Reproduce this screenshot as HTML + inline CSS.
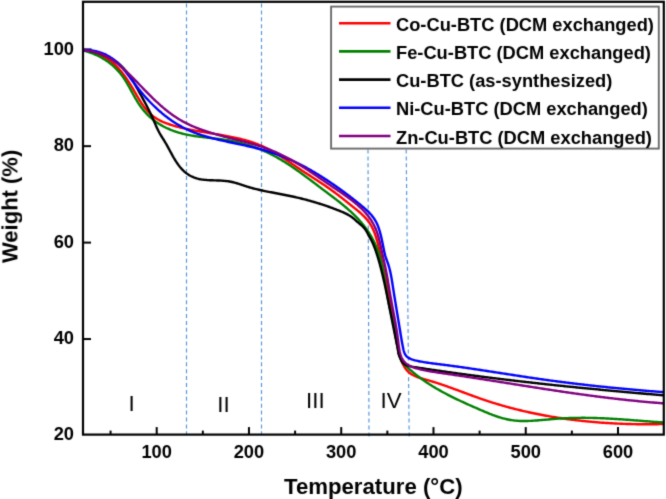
<!DOCTYPE html>
<html><head><meta charset="utf-8"><style>
html,body{margin:0;padding:0;background:#fff;}
svg{display:block;}
text{font-family:"Liberation Sans",sans-serif;}
</style></head><body>
<svg width="666" height="499" viewBox="0 0 666 499">
<defs><filter id="b" x="0" y="0" width="666" height="499" filterUnits="userSpaceOnUse" color-interpolation-filters="sRGB"><feConvolveMatrix order="3" kernelMatrix="0.0192 0.1001 0.0192 0.1001 0.5228 0.1001 0.0192 0.1001 0.0192" edgeMode="duplicate" preserveAlpha="true"/></filter></defs>
<rect width="666" height="499" fill="#fff"/>
<g filter="url(#b)">
<rect width="666" height="499" fill="#fff"/>
<g stroke="#5294dc" stroke-width="1.15" stroke-dasharray="4,2.9" fill="none">
<line x1="186.5" y1="3.5" x2="186.5" y2="437.5"/>
<line x1="261.5" y1="3.5" x2="261.5" y2="437.5"/>
<line x1="368" y1="149.5" x2="369" y2="437.5"/>
<line x1="406.2" y1="149.5" x2="409.2" y2="437.5"/>
</g>
<line x1="83" y1="49.40" x2="91.5" y2="49.40" stroke="#000" stroke-width="2"/>
<g fill="none" stroke-width="2.4" stroke-linejoin="round" stroke-linecap="round">
<path d="M83.50,50.30 L84.81,50.49 L86.10,50.70 L87.37,50.93 L88.61,51.19 L89.84,51.46 L91.04,51.76 L92.22,52.08 L93.38,52.42 L94.52,52.78 L95.65,53.15 L96.75,53.55 L97.83,53.97 L98.89,54.41 L99.94,54.86 L100.96,55.34 L101.97,55.83 L102.96,56.34 L103.94,56.86 L104.90,57.40 L105.84,57.96 L106.76,58.54 L107.67,59.13 L108.56,59.74 L109.44,60.36 L110.30,61.00 L111.15,61.65 L111.98,62.32 L112.80,63.00 L113.61,63.69 L114.40,64.40 L115.18,65.12 L115.95,65.85 L116.70,66.60 L117.45,67.35 L118.18,68.12 L118.90,68.90 L119.61,69.69 L120.31,70.49 L121.00,71.30 L121.68,72.12 L122.34,72.96 L123.00,73.80 L123.66,74.64 L124.30,75.50 L124.93,76.37 L125.56,77.24 L126.18,78.12 L126.79,79.01 L127.40,79.90 L127.99,80.81 L128.59,81.71 L129.17,82.63 L129.75,83.55 L130.33,84.47 L130.90,85.40 L131.46,86.34 L132.03,87.27 L132.58,88.22 L133.14,89.16 L133.69,90.11 L134.24,91.06 L134.79,92.01 L135.34,92.96 L135.89,93.91 L136.44,94.86 L136.99,95.81 L137.54,96.76 L138.10,97.70 L138.66,98.64 L139.23,99.57 L139.80,100.50 L140.38,101.42 L140.97,102.33 L141.56,103.24 L142.17,104.13 L142.78,105.02 L143.40,105.90 L144.04,106.76 L144.69,107.61 L145.35,108.45 L146.02,109.28 L146.71,110.09 L147.41,110.89 L148.13,111.67 L148.87,112.43 L149.62,113.18 L150.39,113.91 L151.18,114.62 L152.00,115.30 L152.83,115.97 L153.68,116.62 L154.55,117.25 L155.45,117.85 L156.36,118.44 L157.30,119.00 L158.25,119.55 L159.22,120.08 L160.21,120.59 L161.22,121.08 L162.24,121.56 L163.28,122.02 L164.34,122.46 L165.40,122.90 L166.49,123.31 L167.58,123.72 L168.69,124.11 L169.81,124.49 L170.94,124.86 L172.08,125.22 L173.24,125.56 L174.40,125.90 L175.57,126.23 L176.75,126.55 L177.94,126.86 L179.13,127.17 L180.33,127.47 L181.54,127.76 L182.76,128.04 L183.98,128.32 L185.20,128.60 L186.44,128.86 L187.68,129.12 L188.92,129.38 L190.17,129.63 L191.42,129.88 L192.68,130.12 L193.94,130.36 L195.21,130.59 L196.48,130.82 L197.75,131.05 L199.02,131.28 L200.30,131.50 L201.58,131.72 L202.86,131.94 L204.14,132.16 L205.43,132.37 L206.72,132.58 L208.00,132.80 L209.29,133.01 L210.58,133.22 L211.86,133.44 L213.15,133.65 L214.44,133.86 L215.72,134.08 L217.01,134.29 L218.29,134.51 L219.57,134.73 L220.85,134.95 L222.13,135.17 L223.40,135.40 L224.68,135.62 L225.94,135.86 L227.21,136.09 L228.47,136.33 L229.73,136.57 L230.98,136.82 L232.23,137.07 L233.47,137.33 L234.71,137.59 L235.94,137.86 L237.17,138.13 L238.39,138.41 L239.60,138.70 L240.81,138.99 L242.01,139.29 L243.20,139.60 L244.39,139.91 L245.56,140.24 L246.73,140.57 L247.89,140.91 L249.05,141.25 L250.19,141.61 L251.32,141.98 L252.45,142.35 L253.56,142.74 L254.67,143.13 L255.76,143.54 L256.85,143.95 L257.92,144.38 L258.99,144.81 L260.04,145.26 L261.09,145.71 L262.13,146.17 L263.16,146.64 L264.18,147.12 L265.20,147.60 L266.20,148.10 L267.20,148.60 L268.19,149.11 L269.18,149.62 L270.16,150.14 L271.13,150.67 L272.09,151.21 L273.05,151.75 L274.01,152.29 L274.96,152.84 L275.90,153.40 L276.84,153.96 L277.77,154.53 L278.70,155.10 L279.63,155.67 L280.55,156.25 L281.47,156.83 L282.38,157.42 L283.29,158.01 L284.20,158.60 L285.11,159.19 L286.01,159.79 L286.91,160.39 L287.81,160.99 L288.71,161.59 L289.60,162.20 L290.50,162.80 L291.39,163.41 L292.29,164.01 L293.18,164.62 L294.08,165.22 L294.97,165.83 L295.86,166.44 L296.76,167.04 L297.65,167.65 L298.55,168.25 L299.45,168.85 L300.35,169.45 L301.25,170.05 L302.15,170.65 L303.06,171.24 L303.96,171.84 L304.87,172.43 L305.78,173.02 L306.69,173.61 L307.60,174.20 L308.51,174.79 L309.42,175.38 L310.33,175.97 L311.24,176.56 L312.15,177.15 L313.06,177.74 L313.98,178.32 L314.89,178.91 L315.79,179.51 L316.70,180.10 L317.61,180.69 L318.52,181.28 L319.42,181.88 L320.33,182.47 L321.23,183.07 L322.13,183.67 L323.03,184.27 L323.93,184.87 L324.82,185.48 L325.71,186.09 L326.60,186.70 L327.49,187.31 L328.38,187.92 L329.26,188.54 L330.14,189.16 L331.01,189.79 L331.88,190.42 L332.75,191.05 L333.62,191.68 L334.48,192.32 L335.34,192.96 L336.20,193.60 L337.05,194.25 L337.90,194.90 L338.75,195.55 L339.60,196.20 L340.44,196.86 L341.29,197.51 L342.13,198.17 L342.97,198.83 L343.80,199.50 L344.64,200.16 L345.48,200.82 L346.31,201.49 L347.14,202.16 L347.98,202.82 L348.81,203.49 L349.64,204.16 L350.47,204.83 L351.30,205.50 L352.13,206.17 L352.97,206.83 L353.80,207.50 L354.63,208.17 L355.46,208.84 L356.29,209.51 L357.12,210.18 L357.94,210.86 L358.76,211.54 L359.57,212.23 L360.37,212.93 L361.17,213.63 L361.95,214.35 L362.73,215.07 L363.49,215.81 L364.24,216.56 L364.97,217.33 L365.69,218.11 L366.39,218.91 L367.07,219.73 L367.74,220.56 L368.39,221.41 L369.01,222.29 L369.62,223.18 L370.21,224.09 L370.78,225.02 L371.33,225.97 L371.86,226.94 L372.37,227.93 L372.86,228.94 L373.33,229.97 L373.78,231.02 L374.21,232.09 L374.63,233.17 L375.03,234.27 L375.42,235.38 L375.79,236.51 L376.15,237.65 L376.50,238.80 L376.84,239.96 L377.18,241.12 L377.50,242.30 L377.81,243.49 L378.12,244.68 L378.42,245.88 L378.72,247.08 L379.01,248.29 L379.29,249.51 L379.57,250.73 L379.85,251.95 L380.13,253.17 L380.40,254.40 L380.67,255.63 L380.94,256.86 L381.20,258.10 L381.47,259.33 L381.74,260.56 L382.01,261.79 L382.28,263.02 L382.55,264.25 L382.82,265.48 L383.09,266.71 L383.36,267.94 L383.64,269.16 L383.91,270.39 L384.18,271.62 L384.45,272.85 L384.72,274.08 L384.99,275.31 L385.26,276.54 L385.53,277.77 L385.80,279.00 L386.07,280.23 L386.34,281.46 L386.60,282.70 L386.86,283.94 L387.13,285.17 L387.39,286.41 L387.65,287.65 L387.90,288.90 L388.16,290.14 L388.41,291.39 L388.66,292.64 L388.91,293.89 L389.16,295.14 L389.40,296.40 L389.64,297.66 L389.88,298.92 L390.12,300.18 L390.35,301.45 L390.58,302.72 L390.80,304.00 L391.03,305.27 L391.25,306.55 L391.46,307.84 L391.67,309.13 L391.88,310.42 L392.09,311.71 L392.29,313.01 L392.48,314.32 L392.67,315.63 L392.86,316.94 L393.05,318.25 L393.24,319.56 L393.42,320.88 L393.61,322.19 L393.79,323.51 L393.97,324.83 L394.16,326.14 L394.34,327.46 L394.53,328.77 L394.72,330.08 L394.91,331.39 L395.10,332.70 L395.30,334.00 L395.50,335.30 L395.71,336.59 L395.92,337.88 L396.14,339.16 L396.36,340.44 L396.58,341.72 L396.82,342.98 L397.06,344.24 L397.31,345.49 L397.57,346.73 L397.83,347.97 L398.11,349.19 L398.39,350.41 L398.69,351.61 L398.99,352.81 L399.31,353.99 L399.63,355.17 L399.97,356.33 L400.33,357.47 L400.70,358.60 L401.08,359.72 L401.49,360.81 L401.91,361.89 L402.36,362.94 L402.83,363.97 L403.32,364.98 L403.85,365.95 L404.40,366.90 L404.98,367.82 L405.59,368.71 L406.24,369.56 L406.92,370.38 L407.64,371.16 L408.40,371.90 L409.20,372.60 L410.04,373.26 L410.92,373.88 L411.84,374.46 L412.80,375.00 L413.79,375.51 L414.81,375.99 L415.85,376.45 L416.93,376.87 L418.02,377.28 L419.14,377.66 L420.27,378.03 L421.41,378.39 L422.57,378.73 L423.73,379.07 L424.90,379.40 L426.07,379.73 L427.25,380.05 L428.42,380.38 L429.58,380.72 L430.74,381.06 L431.89,381.41 L433.05,381.75 L434.19,382.11 L435.33,382.47 L436.47,382.83 L437.61,383.19 L438.74,383.56 L439.87,383.93 L440.99,384.31 L442.11,384.69 L443.23,385.07 L444.35,385.45 L445.46,385.84 L446.57,386.23 L447.68,386.62 L448.79,387.01 L449.89,387.41 L451.00,387.80 L452.10,388.20 L453.20,388.60 L454.29,389.01 L455.39,389.41 L456.49,389.81 L457.58,390.22 L458.68,390.62 L459.77,391.03 L460.86,391.44 L461.95,391.85 L463.05,392.25 L464.14,392.66 L465.23,393.07 L466.32,393.48 L467.42,393.88 L468.51,394.29 L469.61,394.69 L470.70,395.10 L471.80,395.50 L472.90,395.90 L474.00,396.30 L475.10,396.70 L476.20,397.10 L477.31,397.49 L478.41,397.89 L479.52,398.28 L480.63,398.67 L481.75,399.05 L482.86,399.44 L483.98,399.82 L485.10,400.20 L486.23,400.57 L487.36,400.94 L488.49,401.31 L489.62,401.68 L490.75,402.05 L491.89,402.41 L493.03,402.77 L494.18,403.12 L495.32,403.48 L496.47,403.83 L497.63,404.17 L498.78,404.52 L499.94,404.86 L501.10,405.20 L502.27,405.53 L503.43,405.87 L504.60,406.20 L505.77,406.53 L506.95,406.85 L508.13,407.17 L509.31,407.49 L510.49,407.81 L511.68,408.12 L512.87,408.43 L514.06,408.74 L515.26,409.04 L516.45,409.35 L517.66,409.64 L518.86,409.94 L520.07,410.23 L521.28,410.52 L522.49,410.81 L523.70,411.10 L524.92,411.38 L526.14,411.66 L527.37,411.93 L528.59,412.21 L529.82,412.48 L531.06,412.74 L532.29,413.01 L533.53,413.27 L534.77,413.53 L536.02,413.78 L537.27,414.03 L538.52,414.28 L539.77,414.53 L541.03,414.77 L542.29,415.01 L543.55,415.25 L544.82,415.48 L546.08,415.72 L547.36,415.94 L548.63,416.17 L549.91,416.39 L551.19,416.61 L552.47,416.83 L553.76,417.04 L555.05,417.25 L556.34,417.46 L557.64,417.66 L558.93,417.87 L560.24,418.06 L561.54,418.26 L562.85,418.45 L564.16,418.64 L565.47,418.83 L566.79,419.01 L568.11,419.19 L569.43,419.37 L570.76,419.54 L572.09,419.71 L573.42,419.88 L574.76,420.04 L576.09,420.21 L577.43,420.37 L578.78,420.52 L580.13,420.67 L581.48,420.82 L582.83,420.97 L584.19,421.11 L585.55,421.25 L586.91,421.39 L588.28,421.52 L589.65,421.65 L591.02,421.78 L592.39,421.91 L593.77,422.03 L595.15,422.15 L596.54,422.26 L597.93,422.37 L599.32,422.48 L600.71,422.59 L602.11,422.69 L603.51,422.79 L604.92,422.88 L606.32,422.98 L607.73,423.07 L609.15,423.15 L610.56,423.24 L611.98,423.32 L613.41,423.39 L614.83,423.47 L616.26,423.54 L617.69,423.61 L619.13,423.67 L620.57,423.73 L622.01,423.79 L623.46,423.84 L624.91,423.89 L626.36,423.94 L627.81,423.99 L629.27,424.03 L630.73,424.07 L632.20,424.10 L633.67,424.13 L635.14,424.16 L636.61,424.19 L638.09,424.21 L639.57,424.23 L641.06,424.24 L642.54,424.26 L644.03,424.27 L645.53,424.27 L647.03,424.27 L648.53,424.27 L650.03,424.27 L651.54,424.26 L653.05,424.25 L654.56,424.24 L656.08,424.22 L657.60,424.20 L659.13,424.17 L660.65,424.15 L662.19,424.11 L663.00,424.10" stroke="#ff0000"/>
<path d="M83.50,50.50 L84.67,50.83 L85.84,51.16 L86.99,51.51 L88.12,51.88 L89.25,52.25 L90.36,52.64 L91.45,53.05 L92.54,53.46 L93.61,53.89 L94.66,54.34 L95.71,54.79 L96.74,55.26 L97.76,55.74 L98.76,56.24 L99.75,56.75 L100.73,57.27 L101.70,57.80 L102.65,58.35 L103.59,58.91 L104.52,59.48 L105.44,60.06 L106.34,60.66 L107.23,61.27 L108.10,61.90 L108.97,62.53 L109.82,63.18 L110.66,63.84 L111.48,64.52 L112.30,65.20 L113.10,65.90 L113.89,66.61 L114.66,67.34 L115.42,68.08 L116.17,68.83 L116.91,69.59 L117.64,70.36 L118.35,71.15 L119.05,71.95 L119.74,72.76 L120.42,73.58 L121.08,74.42 L121.73,75.27 L122.37,76.13 L123.00,77.00 L123.62,77.88 L124.22,78.78 L124.81,79.69 L125.40,80.60 L125.97,81.53 L126.54,82.46 L127.10,83.40 L127.65,84.35 L128.20,85.30 L128.74,86.26 L129.28,87.22 L129.81,88.19 L130.34,89.16 L130.87,90.13 L131.40,91.10 L131.93,92.07 L132.46,93.04 L132.99,94.01 L133.52,94.98 L134.05,95.95 L134.59,96.91 L135.13,97.87 L135.68,98.82 L136.24,99.76 L136.80,100.70 L137.37,101.63 L137.94,102.56 L138.53,103.47 L139.12,104.38 L139.73,105.27 L140.35,106.15 L140.98,107.02 L141.62,107.88 L142.27,108.73 L142.94,109.56 L143.62,110.38 L144.31,111.19 L145.01,111.99 L145.72,112.78 L146.45,113.55 L147.18,114.32 L147.93,115.07 L148.70,115.80 L149.47,116.53 L150.26,117.24 L151.05,117.95 L151.87,118.63 L152.69,119.31 L153.52,119.98 L154.37,120.63 L155.23,121.27 L156.10,121.90 L156.99,122.51 L157.88,123.12 L158.79,123.71 L159.71,124.29 L160.65,124.85 L161.59,125.41 L162.55,125.95 L163.52,126.48 L164.51,126.99 L165.50,127.50 L166.51,127.99 L167.53,128.47 L168.57,128.93 L169.62,129.38 L170.68,129.82 L171.75,130.25 L172.83,130.67 L173.93,131.07 L175.04,131.46 L176.16,131.84 L177.30,132.20 L178.45,132.55 L179.61,132.89 L180.79,133.21 L181.97,133.53 L183.18,133.82 L184.39,134.11 L185.62,134.38 L186.85,134.65 L188.10,134.90 L189.37,135.13 L190.64,135.36 L191.92,135.58 L193.21,135.79 L194.51,135.99 L195.81,136.19 L197.12,136.38 L198.44,136.56 L199.77,136.73 L201.10,136.90 L202.43,137.07 L203.77,137.23 L205.11,137.39 L206.45,137.55 L207.80,137.70 L209.14,137.86 L210.49,138.01 L211.83,138.17 L213.18,138.32 L214.52,138.48 L215.86,138.64 L217.20,138.80 L218.53,138.97 L219.86,139.14 L221.19,139.31 L222.50,139.50 L223.82,139.68 L225.12,139.88 L226.42,140.08 L227.71,140.29 L228.99,140.51 L230.26,140.74 L231.53,140.97 L232.78,141.22 L234.03,141.47 L235.27,141.73 L236.50,142.00 L237.72,142.28 L238.93,142.57 L240.14,142.86 L241.34,143.16 L242.53,143.47 L243.71,143.79 L244.88,144.12 L246.05,144.45 L247.20,144.80 L248.35,145.15 L249.50,145.50 L250.63,145.87 L251.76,146.24 L252.88,146.62 L253.99,147.01 L255.10,147.40 L256.19,147.81 L257.28,148.22 L258.37,148.63 L259.44,149.06 L260.51,149.49 L261.57,149.93 L262.63,150.37 L263.67,150.83 L264.71,151.29 L265.75,151.75 L266.77,152.23 L267.79,152.71 L268.81,153.19 L269.82,153.68 L270.82,154.18 L271.81,154.69 L272.80,155.20 L273.78,155.72 L274.76,156.24 L275.73,156.77 L276.70,157.30 L277.66,157.84 L278.61,158.39 L279.56,158.94 L280.51,159.49 L281.45,160.05 L282.39,160.61 L283.32,161.18 L284.25,161.75 L285.17,162.33 L286.09,162.91 L287.00,163.50 L287.92,164.08 L288.82,164.68 L289.73,165.27 L290.63,165.87 L291.53,166.47 L292.42,167.08 L293.31,167.69 L294.20,168.30 L295.08,168.92 L295.97,169.53 L296.85,170.15 L297.73,170.77 L298.60,171.40 L299.48,172.02 L300.35,172.65 L301.22,173.28 L302.09,173.91 L302.95,174.55 L303.82,175.18 L304.68,175.82 L305.55,176.45 L306.41,177.09 L307.27,177.73 L308.13,178.37 L308.99,179.01 L309.85,179.65 L310.71,180.29 L311.56,180.94 L312.42,181.58 L313.28,182.22 L314.13,182.87 L314.99,183.51 L315.84,184.16 L316.70,184.80 L317.55,185.45 L318.40,186.10 L319.26,186.74 L320.11,187.39 L320.96,188.04 L321.82,188.68 L322.67,189.33 L323.53,189.97 L324.38,190.62 L325.24,191.26 L326.09,191.91 L326.95,192.55 L327.80,193.20 L328.66,193.84 L329.51,194.49 L330.37,195.13 L331.22,195.78 L332.08,196.42 L332.93,197.07 L333.78,197.72 L334.63,198.37 L335.48,199.02 L336.33,199.67 L337.17,200.33 L338.01,200.99 L338.85,201.65 L339.69,202.31 L340.53,202.97 L341.36,203.64 L342.19,204.31 L343.02,204.98 L343.84,205.66 L344.66,206.34 L345.47,207.03 L346.28,207.72 L347.09,208.41 L347.89,209.11 L348.69,209.81 L349.48,210.52 L350.27,211.23 L351.06,211.94 L351.84,212.66 L352.61,213.39 L353.37,214.13 L354.14,214.86 L354.89,215.61 L355.64,216.36 L356.38,217.12 L357.12,217.88 L357.85,218.65 L358.57,219.43 L359.28,220.22 L359.99,221.01 L360.69,221.81 L361.39,222.61 L362.07,223.43 L362.75,224.25 L363.42,225.08 L364.08,225.92 L364.73,226.77 L365.37,227.63 L366.01,228.49 L366.64,229.36 L367.25,230.25 L367.86,231.14 L368.46,232.04 L369.05,232.95 L369.64,233.86 L370.21,234.79 L370.77,235.73 L371.32,236.68 L371.87,237.63 L372.40,238.60 L372.92,239.58 L373.43,240.57 L373.93,241.57 L374.42,242.58 L374.90,243.60 L375.37,244.63 L375.83,245.67 L376.28,246.72 L376.71,247.79 L377.14,248.86 L377.55,249.95 L377.95,251.05 L378.34,252.16 L378.71,253.29 L379.08,254.42 L379.43,255.57 L379.77,256.73 L380.11,257.89 L380.43,259.07 L380.74,260.26 L381.04,261.46 L381.34,262.66 L381.62,263.88 L381.90,265.10 L382.17,266.33 L382.43,267.57 L382.69,268.81 L382.94,270.06 L383.18,271.32 L383.42,272.58 L383.66,273.84 L383.89,275.11 L384.12,276.38 L384.34,277.66 L384.56,278.94 L384.78,280.22 L384.99,281.51 L385.21,282.79 L385.42,284.08 L385.63,285.37 L385.84,286.66 L386.05,287.95 L386.27,289.23 L386.48,290.52 L386.70,291.80 L386.91,293.09 L387.13,294.37 L387.35,295.65 L387.58,296.92 L387.81,298.19 L388.04,299.46 L388.28,300.72 L388.52,301.98 L388.77,303.23 L389.02,304.48 L389.28,305.72 L389.55,306.95 L389.82,308.18 L390.09,309.41 L390.37,310.63 L390.65,311.85 L390.93,313.07 L391.21,314.29 L391.50,315.50 L391.78,316.72 L392.06,317.94 L392.34,319.16 L392.62,320.38 L392.89,321.61 L393.16,322.84 L393.42,324.08 L393.68,325.32 L393.93,326.57 L394.17,327.83 L394.41,329.09 L394.64,330.36 L394.87,331.63 L395.09,332.91 L395.31,334.19 L395.52,335.48 L395.73,336.77 L395.95,338.05 L396.15,339.35 L396.36,340.64 L396.57,341.93 L396.78,343.22 L397.00,344.50 L397.21,345.79 L397.43,347.07 L397.65,348.35 L397.88,349.62 L398.13,350.87 L398.39,352.11 L398.67,353.33 L398.98,354.52 L399.31,355.69 L399.68,356.82 L400.09,357.91 L400.54,358.96 L401.04,359.96 L401.59,360.91 L402.19,361.81 L402.82,362.68 L403.50,363.50 L404.20,364.30 L404.94,365.06 L405.69,365.81 L406.46,366.54 L407.25,367.25 L408.04,367.96 L408.83,368.67 L409.63,369.37 L410.43,370.07 L411.24,370.76 L412.05,371.45 L412.87,372.13 L413.69,372.81 L414.52,373.48 L415.35,374.15 L416.18,374.82 L417.02,375.48 L417.87,376.13 L418.72,376.78 L419.57,377.43 L420.43,378.07 L421.30,378.70 L422.17,379.33 L423.05,379.95 L423.93,380.57 L424.82,381.18 L425.71,381.79 L426.61,382.39 L427.51,382.99 L428.42,383.58 L429.33,384.17 L430.25,384.75 L431.17,385.33 L432.09,385.91 L433.02,386.48 L433.95,387.05 L434.89,387.61 L435.83,388.17 L436.78,388.72 L437.73,389.27 L438.68,389.82 L439.64,390.36 L440.60,390.90 L441.57,391.43 L442.54,391.96 L443.51,392.49 L444.48,393.02 L445.46,393.54 L446.44,394.06 L447.43,394.57 L448.42,395.08 L449.41,395.59 L450.41,396.09 L451.40,396.60 L452.40,397.10 L453.41,397.59 L454.41,398.09 L455.42,398.58 L456.43,399.07 L457.45,399.55 L458.46,400.04 L459.48,400.52 L460.50,401.00 L461.52,401.48 L462.55,401.95 L463.58,402.42 L464.60,402.90 L465.63,403.37 L466.67,403.83 L467.70,404.30 L468.74,404.76 L469.77,405.23 L470.81,405.69 L471.85,406.15 L472.89,406.61 L473.94,407.06 L474.98,407.52 L476.03,407.97 L477.07,408.43 L478.12,408.88 L479.17,409.33 L480.22,409.78 L481.27,410.23 L482.32,410.68 L483.37,411.13 L484.42,411.58 L485.47,412.03 L486.53,412.47 L487.59,412.91 L488.65,413.35 L489.71,413.79 L490.79,414.21 L491.86,414.64 L492.95,415.05 L494.04,415.46 L495.14,415.86 L496.25,416.25 L497.37,416.63 L498.50,417.00 L499.64,417.36 L500.80,417.70 L501.96,418.04 L503.14,418.36 L504.34,418.66 L505.55,418.95 L506.77,419.23 L508.01,419.49 L509.27,419.73 L510.55,419.95 L511.85,420.15 L513.17,420.33 L514.50,420.50 L515.86,420.64 L517.24,420.76 L518.64,420.86 L520.07,420.93 L521.52,420.98 L523.00,421.00 L524.49,421.01 L526.01,420.99 L527.54,420.96 L529.10,420.90 L530.67,420.83 L532.25,420.75 L533.85,420.65 L535.45,420.55 L537.07,420.43 L538.70,420.30 L540.33,420.17 L541.97,420.03 L543.62,419.88 L545.26,419.74 L546.91,419.59 L548.56,419.44 L550.20,419.30 L551.84,419.16 L553.48,419.02 L555.11,418.89 L556.73,418.77 L558.35,418.65 L559.95,418.55 L561.55,418.45 L563.14,418.36 L564.73,418.27 L566.30,418.20 L567.87,418.13 L569.43,418.07 L570.99,418.01 L572.53,417.97 L574.07,417.93 L575.61,417.89 L577.13,417.87 L578.66,417.84 L580.17,417.83 L581.68,417.82 L583.18,417.82 L584.68,417.82 L586.17,417.83 L587.66,417.84 L589.14,417.86 L590.61,417.89 L592.08,417.92 L593.55,417.95 L595.01,417.99 L596.47,418.03 L597.92,418.08 L599.37,418.13 L600.81,418.19 L602.26,418.24 L603.69,418.31 L605.13,418.37 L606.55,418.45 L607.98,418.52 L609.40,418.60 L610.82,418.68 L612.24,418.76 L613.66,418.84 L615.07,418.93 L616.48,419.02 L617.88,419.12 L619.29,419.21 L620.69,419.31 L622.09,419.41 L623.49,419.51 L624.89,419.61 L626.29,419.71 L627.69,419.81 L629.08,419.92 L630.47,420.03 L631.87,420.13 L633.26,420.24 L634.65,420.35 L636.04,420.46 L637.43,420.57 L638.83,420.67 L640.22,420.78 L641.61,420.89 L643.00,421.00 L644.39,421.11 L645.79,421.21 L647.18,421.32 L648.58,421.42 L649.97,421.53 L651.37,421.63 L652.77,421.73 L654.17,421.83 L655.58,421.92 L656.98,422.02 L658.39,422.11 L659.80,422.20 L661.21,422.29 L662.62,422.38 L663.00,422.40" stroke="#008000"/>
<path d="M83.50,50.00 L84.81,50.19 L86.10,50.40 L87.38,50.62 L88.65,50.85 L89.91,51.09 L91.16,51.34 L92.39,51.61 L93.61,51.89 L94.82,52.18 L96.01,52.49 L97.19,52.81 L98.36,53.14 L99.51,53.49 L100.64,53.86 L101.76,54.24 L102.87,54.63 L103.96,55.04 L105.04,55.46 L106.09,55.91 L107.14,56.36 L108.16,56.84 L109.17,57.33 L110.16,57.84 L111.14,58.36 L112.09,58.91 L113.03,59.47 L113.95,60.05 L114.85,60.65 L115.73,61.27 L116.60,61.90 L117.44,62.56 L118.27,63.23 L119.09,63.91 L119.88,64.62 L120.66,65.34 L121.43,66.07 L122.17,66.83 L122.91,67.59 L123.63,68.37 L124.34,69.16 L125.03,69.97 L125.71,70.79 L126.38,71.62 L127.04,72.46 L127.69,73.31 L128.33,74.17 L128.96,75.04 L129.57,75.93 L130.18,76.82 L130.78,77.72 L131.38,78.62 L131.96,79.54 L132.54,80.46 L133.11,81.39 L133.68,82.32 L134.24,83.26 L134.79,84.21 L135.34,85.16 L135.89,86.11 L136.43,87.07 L136.97,88.03 L137.51,88.99 L138.05,89.95 L138.58,90.92 L139.11,91.89 L139.65,92.85 L140.18,93.82 L140.71,94.79 L141.25,95.75 L141.78,96.72 L142.31,97.69 L142.85,98.65 L143.38,99.62 L143.91,100.59 L144.44,101.56 L144.96,102.54 L145.49,103.51 L146.01,104.49 L146.53,105.47 L147.05,106.45 L147.56,107.44 L148.07,108.43 L148.57,109.43 L149.08,110.42 L149.57,111.43 L150.06,112.44 L150.55,113.45 L151.03,114.47 L151.51,115.49 L151.98,116.52 L152.45,117.55 L152.91,118.59 L153.36,119.64 L153.81,120.69 L154.26,121.74 L154.71,122.79 L155.17,123.83 L155.62,124.88 L156.08,125.92 L156.54,126.96 L157.01,127.99 L157.49,129.01 L157.98,130.02 L158.48,131.02 L159.00,132.00 L159.52,132.98 L160.06,133.94 L160.62,134.88 L161.18,135.82 L161.75,136.75 L162.33,137.67 L162.91,138.59 L163.49,139.51 L164.07,140.43 L164.64,141.36 L165.20,142.30 L165.76,143.24 L166.31,144.19 L166.85,145.15 L167.38,146.12 L167.92,147.08 L168.45,148.05 L168.97,149.03 L169.50,150.00 L170.02,150.98 L170.54,151.96 L171.07,152.93 L171.60,153.90 L172.13,154.87 L172.66,155.84 L173.21,156.79 L173.75,157.75 L174.31,158.69 L174.87,159.63 L175.44,160.56 L176.02,161.48 L176.61,162.39 L177.22,163.28 L177.84,164.16 L178.47,165.03 L179.12,165.88 L179.78,166.72 L180.46,167.54 L181.16,168.34 L181.87,169.13 L182.61,169.89 L183.36,170.64 L184.14,171.36 L184.94,172.06 L185.77,172.73 L186.62,173.38 L187.49,174.01 L188.39,174.61 L189.32,175.18 L190.28,175.72 L191.26,176.24 L192.28,176.72 L193.32,177.18 L194.40,177.60 L195.51,177.99 L196.65,178.35 L197.83,178.67 L199.04,178.96 L200.28,179.22 L201.56,179.44 L202.88,179.62 L204.22,179.78 L205.59,179.91 L206.97,180.03 L208.38,180.12 L209.81,180.19 L211.24,180.26 L212.69,180.31 L214.14,180.36 L215.59,180.41 L217.04,180.46 L218.49,180.51 L219.93,180.57 L221.35,180.65 L222.77,180.73 L224.17,180.83 L225.54,180.96 L226.90,181.10 L228.22,181.28 L229.52,181.48 L230.78,181.72 L232.02,181.98 L233.24,182.26 L234.43,182.57 L235.61,182.89 L236.77,183.23 L237.92,183.58 L239.05,183.95 L240.18,184.32 L241.31,184.69 L242.43,185.07 L243.55,185.45 L244.67,185.83 L245.80,186.20 L246.94,186.56 L248.09,186.91 L249.25,187.25 L250.41,187.59 L251.59,187.91 L252.77,188.23 L253.96,188.54 L255.16,188.84 L256.36,189.14 L257.57,189.43 L258.79,189.71 L260.01,189.99 L261.24,190.26 L262.47,190.53 L263.70,190.80 L264.94,191.06 L266.19,191.31 L267.44,191.56 L268.69,191.81 L269.94,192.06 L271.20,192.30 L272.45,192.55 L273.71,192.79 L274.97,193.03 L276.23,193.27 L277.49,193.51 L278.75,193.75 L280.01,193.99 L281.27,194.23 L282.53,194.47 L283.79,194.71 L285.04,194.96 L286.29,195.21 L287.54,195.46 L288.79,195.71 L290.03,195.97 L291.27,196.23 L292.50,196.50 L293.73,196.77 L294.96,197.04 L296.18,197.32 L297.40,197.60 L298.61,197.89 L299.82,198.18 L301.03,198.47 L302.23,198.77 L303.42,199.08 L304.62,199.38 L305.81,199.69 L306.99,200.01 L308.17,200.33 L309.35,200.65 L310.52,200.98 L311.69,201.31 L312.86,201.64 L314.02,201.98 L315.17,202.33 L316.33,202.67 L317.47,203.03 L318.62,203.38 L319.76,203.74 L320.90,204.10 L322.03,204.47 L323.16,204.84 L324.29,205.21 L325.41,205.59 L326.52,205.98 L327.64,206.36 L328.75,206.75 L329.85,207.15 L330.96,207.54 L332.05,207.95 L333.15,208.35 L334.24,208.76 L335.32,209.18 L336.41,209.59 L337.49,210.01 L338.56,210.44 L339.63,210.87 L340.70,211.30 L341.75,211.75 L342.80,212.20 L343.84,212.66 L344.86,213.14 L345.87,213.63 L346.87,214.13 L347.85,214.65 L348.81,215.19 L349.75,215.75 L350.66,216.34 L351.56,216.94 L352.43,217.57 L353.27,218.23 L354.09,218.91 L354.89,219.61 L355.67,220.33 L356.45,221.05 L357.23,221.77 L358.04,222.46 L358.85,223.15 L359.67,223.83 L360.48,224.52 L361.29,225.21 L362.09,225.91 L362.86,226.64 L363.60,227.40 L364.31,228.19 L364.98,229.02 L365.60,229.90 L366.19,230.81 L366.74,231.76 L367.27,232.73 L367.78,233.72 L368.29,234.71 L368.81,235.69 L369.34,236.66 L369.89,237.61 L370.44,238.56 L370.97,239.53 L371.48,240.52 L371.98,241.52 L372.46,242.54 L372.93,243.57 L373.38,244.62 L373.82,245.68 L374.24,246.76 L374.66,247.84 L375.07,248.93 L375.47,250.03 L375.86,251.14 L376.24,252.26 L376.62,253.38 L376.98,254.52 L377.34,255.66 L377.70,256.80 L378.05,257.95 L378.39,259.11 L378.73,260.27 L379.06,261.44 L379.39,262.61 L379.71,263.79 L380.03,264.97 L380.35,266.15 L380.66,267.34 L380.97,268.53 L381.27,269.73 L381.57,270.93 L381.87,272.13 L382.17,273.33 L382.46,274.54 L382.75,275.75 L383.04,276.96 L383.32,278.18 L383.60,279.40 L383.88,280.62 L384.15,281.85 L384.43,283.07 L384.70,284.30 L384.97,285.53 L385.24,286.76 L385.50,288.00 L385.76,289.24 L386.03,290.47 L386.29,291.71 L386.54,292.96 L386.80,294.20 L387.06,295.44 L387.31,296.69 L387.56,297.94 L387.82,299.18 L388.07,300.43 L388.32,301.68 L388.57,302.93 L388.82,304.18 L389.07,305.43 L389.31,306.69 L389.56,307.94 L389.81,309.19 L390.06,310.44 L390.30,311.70 L390.55,312.95 L390.80,314.20 L391.05,315.45 L391.30,316.70 L391.54,317.96 L391.79,319.21 L392.04,320.46 L392.29,321.71 L392.54,322.96 L392.79,324.21 L393.04,325.46 L393.29,326.71 L393.54,327.96 L393.80,329.20 L394.05,330.45 L394.30,331.70 L394.56,332.94 L394.81,334.19 L395.07,335.43 L395.32,336.68 L395.58,337.92 L395.84,339.16 L396.10,340.40 L396.36,341.64 L396.62,342.88 L396.88,344.12 L397.14,345.36 L397.40,346.60 L397.66,347.84 L397.89,349.11 L398.06,350.44 L398.22,351.78 L398.41,353.09 L398.69,354.31 L399.10,355.40 L399.58,356.42 L400.04,357.46 L400.47,358.53 L400.92,359.58 L401.39,360.61 L401.92,361.58 L402.54,362.46 L403.26,363.24 L404.08,363.92 L405.00,364.50 L405.99,365.01 L407.06,365.44 L408.19,365.81 L409.37,366.13 L410.60,366.40 L411.85,366.65 L413.13,366.87 L414.42,367.08 L415.71,367.29 L417.01,367.49 L418.31,367.69 L419.61,367.89 L420.91,368.09 L422.22,368.28 L423.52,368.48 L424.82,368.68 L426.13,368.87 L427.43,369.07 L428.74,369.26 L430.05,369.45 L431.35,369.65 L432.66,369.84 L433.97,370.03 L435.28,370.22 L436.59,370.41 L437.90,370.60 L439.21,370.79 L440.52,370.98 L441.83,371.17 L443.14,371.36 L444.46,371.54 L445.77,371.73 L447.08,371.92 L448.40,372.10 L449.71,372.29 L451.03,372.47 L452.34,372.66 L453.66,372.84 L454.98,373.02 L456.29,373.21 L457.61,373.39 L458.93,373.57 L460.25,373.75 L461.57,373.93 L462.89,374.11 L464.21,374.29 L465.53,374.47 L466.85,374.65 L468.17,374.83 L469.50,375.00 L470.82,375.18 L472.15,375.35 L473.47,375.53 L474.79,375.71 L476.12,375.88 L477.45,376.05 L478.77,376.23 L480.10,376.40 L481.43,376.57 L482.76,376.74 L484.09,376.91 L485.41,377.09 L486.74,377.26 L488.08,377.42 L489.41,377.59 L490.74,377.76 L492.07,377.93 L493.40,378.10 L494.74,378.26 L496.07,378.43 L497.40,378.60 L498.74,378.76 L500.07,378.93 L501.41,379.09 L502.75,379.25 L504.08,379.42 L505.42,379.58 L506.76,379.74 L508.10,379.90 L509.44,380.06 L510.78,380.22 L512.12,380.38 L513.46,380.54 L514.80,380.70 L516.14,380.86 L517.49,381.01 L518.83,381.17 L520.17,381.33 L521.52,381.48 L522.86,381.64 L524.21,381.79 L525.55,381.95 L526.90,382.10 L528.25,382.25 L529.59,382.41 L530.94,382.56 L532.29,382.71 L533.64,382.86 L534.99,383.01 L536.34,383.16 L537.69,383.31 L539.04,383.46 L540.39,383.61 L541.74,383.76 L543.10,383.90 L544.45,384.05 L545.80,384.20 L547.16,384.34 L548.51,384.49 L549.87,384.63 L551.22,384.78 L552.58,384.92 L553.93,385.07 L555.29,385.21 L556.65,385.35 L558.01,385.49 L559.36,385.64 L560.72,385.78 L562.08,385.92 L563.44,386.06 L564.80,386.20 L566.16,386.34 L567.52,386.48 L568.88,386.62 L570.25,386.75 L571.61,386.89 L572.97,387.03 L574.33,387.17 L575.70,387.30 L577.06,387.44 L578.43,387.57 L579.79,387.71 L581.16,387.84 L582.52,387.98 L583.89,388.11 L585.25,388.25 L586.62,388.38 L587.99,388.51 L589.35,388.65 L590.72,388.78 L592.09,388.91 L593.46,389.04 L594.83,389.17 L596.20,389.30 L597.57,389.43 L598.94,389.56 L600.31,389.69 L601.68,389.82 L603.05,389.95 L604.42,390.08 L605.79,390.21 L607.16,390.34 L608.53,390.47 L609.91,390.59 L611.28,390.72 L612.65,390.85 L614.03,390.97 L615.40,391.10 L616.77,391.23 L618.15,391.35 L619.52,391.48 L620.90,391.60 L622.27,391.73 L623.65,391.85 L625.02,391.98 L626.40,392.10 L627.78,392.22 L629.15,392.35 L630.53,392.47 L631.91,392.59 L633.28,392.72 L634.66,392.84 L636.04,392.96 L637.42,393.08 L638.80,393.20 L640.18,393.32 L641.55,393.45 L642.93,393.57 L644.31,393.69 L645.69,393.81 L647.07,393.93 L648.45,394.05 L649.83,394.17 L651.21,394.29 L652.59,394.41 L653.97,394.53 L655.35,394.65 L656.74,394.76 L658.12,394.88 L659.50,395.00 L660.88,395.12 L662.26,395.24 L663.00,395.30" stroke="#000000"/>
<path d="M83.49,50.01 L84.98,50.02 L86.44,50.06 L87.86,50.14 L89.25,50.25 L90.61,50.39 L91.95,50.55 L93.25,50.75 L94.52,50.98 L95.77,51.23 L96.98,51.52 L98.17,51.83 L99.34,52.16 L100.48,52.52 L101.59,52.91 L102.68,53.32 L103.74,53.76 L104.79,54.21 L105.81,54.69 L106.80,55.20 L107.78,55.72 L108.74,56.26 L109.67,56.83 L110.59,57.41 L111.49,58.01 L112.37,58.63 L113.23,59.27 L114.08,59.92 L114.91,60.59 L115.73,61.27 L116.53,61.97 L117.31,62.69 L118.08,63.42 L118.84,64.16 L119.59,64.91 L120.33,65.67 L121.05,66.45 L121.77,67.23 L122.47,68.03 L123.17,68.83 L123.86,69.64 L124.54,70.46 L125.21,71.29 L125.88,72.12 L126.54,72.96 L127.19,73.81 L127.84,74.66 L128.49,75.51 L129.13,76.37 L129.77,77.23 L130.41,78.09 L131.05,78.95 L131.69,79.81 L132.32,80.68 L132.96,81.54 L133.60,82.40 L134.24,83.26 L134.88,84.12 L135.53,84.97 L136.18,85.82 L136.83,86.67 L137.49,87.51 L138.15,88.35 L138.81,89.19 L139.48,90.02 L140.15,90.85 L140.83,91.67 L141.51,92.49 L142.20,93.30 L142.88,94.12 L143.58,94.92 L144.28,95.72 L144.98,96.52 L145.68,97.32 L146.40,98.10 L147.11,98.89 L147.83,99.67 L148.55,100.45 L149.28,101.22 L150.02,101.98 L150.75,102.75 L151.50,103.50 L152.24,104.26 L153.00,105.00 L153.75,105.75 L154.51,106.49 L155.28,107.22 L156.05,107.95 L156.83,108.67 L157.61,109.39 L158.40,110.10 L159.19,110.81 L159.99,111.51 L160.79,112.21 L161.60,112.90 L162.41,113.59 L163.24,114.26 L164.06,114.94 L164.90,115.60 L165.74,116.26 L166.58,116.92 L167.43,117.57 L168.29,118.21 L169.16,118.84 L170.03,119.47 L170.91,120.09 L171.80,120.70 L172.69,121.31 L173.59,121.91 L174.50,122.50 L175.42,123.08 L176.34,123.66 L177.27,124.23 L178.21,124.79 L179.16,125.34 L180.12,125.88 L181.08,126.42 L182.05,126.95 L183.03,127.47 L184.02,127.98 L185.02,128.48 L186.03,128.97 L187.04,129.46 L188.07,129.93 L189.10,130.40 L190.14,130.86 L191.19,131.31 L192.26,131.74 L193.33,132.17 L194.41,132.59 L195.50,133.00 L196.59,133.41 L197.70,133.80 L198.81,134.19 L199.93,134.57 L201.06,134.94 L202.20,135.30 L203.34,135.66 L204.49,136.01 L205.65,136.35 L206.81,136.69 L207.98,137.02 L209.15,137.35 L210.33,137.67 L211.52,137.98 L212.71,138.29 L213.90,138.60 L215.10,138.90 L216.31,139.19 L217.51,139.49 L218.73,139.77 L219.94,140.06 L221.16,140.34 L222.38,140.62 L223.60,140.90 L224.83,141.17 L226.06,141.44 L227.29,141.71 L228.52,141.98 L229.75,142.25 L230.99,142.51 L232.22,142.78 L233.46,143.04 L234.70,143.30 L235.93,143.57 L237.17,143.83 L238.41,144.09 L239.64,144.36 L240.88,144.62 L242.11,144.89 L243.34,145.16 L244.57,145.43 L245.80,145.70 L247.03,145.97 L248.26,146.24 L249.48,146.52 L250.70,146.80 L251.91,147.09 L253.13,147.37 L254.33,147.67 L255.54,147.96 L256.74,148.26 L257.94,148.56 L259.13,148.87 L260.32,149.18 L261.50,149.50 L262.68,149.82 L263.85,150.15 L265.01,150.49 L266.17,150.83 L267.32,151.18 L268.47,151.53 L269.61,151.89 L270.75,152.25 L271.88,152.62 L273.00,153.00 L274.12,153.38 L275.23,153.77 L276.34,154.16 L277.44,154.56 L278.54,154.96 L279.63,155.37 L280.72,155.78 L281.80,156.20 L282.87,156.63 L283.94,157.06 L285.01,157.49 L286.07,157.93 L287.12,158.38 L288.17,158.83 L289.22,159.28 L290.26,159.74 L291.30,160.20 L292.33,160.67 L293.35,161.15 L294.38,161.62 L295.39,162.11 L296.41,162.59 L297.42,163.08 L298.42,163.58 L299.42,164.08 L300.42,164.58 L301.41,165.09 L302.40,165.60 L303.39,166.11 L304.37,166.63 L305.34,167.16 L306.32,167.68 L307.29,168.21 L308.25,168.75 L309.21,169.29 L310.17,169.83 L311.13,170.37 L312.08,170.92 L313.03,171.47 L313.97,172.03 L314.92,172.58 L315.85,173.15 L316.79,173.71 L317.72,174.28 L318.65,174.85 L319.58,175.42 L320.50,176.00 L321.42,176.58 L322.34,177.16 L323.26,177.74 L324.17,178.33 L325.08,178.92 L325.99,179.51 L326.89,180.11 L327.80,180.70 L328.70,181.30 L329.59,181.91 L330.49,182.51 L331.38,183.12 L332.28,183.72 L333.17,184.33 L334.05,184.95 L334.94,185.56 L335.82,186.18 L336.70,186.80 L337.58,187.42 L338.46,188.04 L339.34,188.66 L340.21,189.29 L341.08,189.92 L341.95,190.55 L342.82,191.18 L343.68,191.82 L344.55,192.45 L345.41,193.09 L346.27,193.73 L347.12,194.38 L347.98,195.02 L348.83,195.67 L349.68,196.32 L350.53,196.97 L351.38,197.62 L352.22,198.28 L353.06,198.94 L353.90,199.60 L354.74,200.26 L355.58,200.92 L356.41,201.59 L357.24,202.26 L358.07,202.93 L358.90,203.60 L359.73,204.27 L360.55,204.95 L361.37,205.63 L362.19,206.31 L363.01,206.99 L363.82,207.68 L364.63,208.37 L365.43,209.07 L366.22,209.78 L367.00,210.50 L367.77,211.23 L368.53,211.97 L369.28,212.72 L370.01,213.49 L370.72,214.28 L371.42,215.08 L372.10,215.90 L372.76,216.74 L373.40,217.60 L374.02,218.48 L374.62,219.38 L375.19,220.31 L375.73,221.27 L376.25,222.25 L376.74,223.26 L377.21,224.29 L377.66,225.34 L378.09,226.41 L378.49,227.51 L378.88,228.62 L379.25,229.75 L379.61,230.89 L379.95,232.05 L380.27,233.23 L380.59,234.41 L380.89,235.61 L381.18,236.82 L381.46,238.04 L381.73,239.27 L382.00,240.50 L382.26,241.74 L382.51,242.99 L382.76,244.24 L383.01,245.49 L383.26,246.74 L383.51,247.99 L383.76,249.24 L384.01,250.49 L384.28,251.72 L384.56,252.94 L384.85,254.15 L385.16,255.34 L385.50,256.50 L385.86,257.64 L386.25,258.75 L386.64,259.86 L387.05,260.95 L387.45,262.05 L387.84,263.16 L388.23,264.27 L388.59,265.41 L388.93,266.57 L389.26,267.74 L389.57,268.93 L389.87,270.13 L390.16,271.34 L390.43,272.57 L390.69,273.81 L390.94,275.06 L391.18,276.32 L391.41,277.59 L391.63,278.87 L391.85,280.15 L392.06,281.44 L392.27,282.73 L392.48,284.02 L392.68,285.32 L392.88,286.62 L393.08,287.92 L393.28,289.22 L393.49,290.51 L393.69,291.81 L393.90,293.10 L394.10,294.40 L394.31,295.69 L394.52,296.98 L394.73,298.27 L394.94,299.56 L395.15,300.85 L395.36,302.14 L395.57,303.43 L395.78,304.72 L395.99,306.01 L396.20,307.30 L396.42,308.58 L396.63,309.87 L396.84,311.16 L397.05,312.45 L397.27,313.73 L397.48,315.02 L397.69,316.31 L397.91,317.59 L398.12,318.88 L398.33,320.17 L398.55,321.45 L398.76,322.74 L398.97,324.03 L399.18,325.32 L399.40,326.60 L399.61,327.89 L399.82,329.18 L400.03,330.47 L400.24,331.76 L400.45,333.05 L400.66,334.34 L400.87,335.63 L401.08,336.92 L401.30,338.20 L401.51,339.49 L401.73,340.77 L401.96,342.04 L402.18,343.32 L402.42,344.58 L402.65,345.85 L402.90,347.10 L403.15,348.35 L403.42,349.58 L403.72,350.78 L404.07,351.93 L404.48,353.02 L404.95,354.05 L405.51,354.99 L406.16,355.84 L406.90,356.60 L407.72,357.28 L408.61,357.89 L409.58,358.42 L410.60,358.90 L411.67,359.33 L412.78,359.72 L413.94,360.06 L415.12,360.38 L416.33,360.67 L417.56,360.94 L418.79,361.21 L420.04,361.46 L421.31,361.69 L422.58,361.92 L423.86,362.14 L425.15,362.35 L426.45,362.55 L427.76,362.74 L429.07,362.93 L430.39,363.11 L431.72,363.28 L433.05,363.45 L434.38,363.62 L435.71,363.79 L437.05,363.95 L438.38,364.12 L439.72,364.28 L441.05,364.45 L442.38,364.62 L443.71,364.79 L445.04,364.96 L446.37,365.13 L447.70,365.30 L449.02,365.48 L450.35,365.65 L451.67,365.83 L452.99,366.01 L454.31,366.19 L455.63,366.37 L456.95,366.55 L458.26,366.74 L459.58,366.92 L460.89,367.11 L462.21,367.29 L463.52,367.48 L464.83,367.67 L466.14,367.86 L467.45,368.05 L468.76,368.24 L470.07,368.43 L471.38,368.62 L472.68,368.82 L473.99,369.01 L475.29,369.21 L476.60,369.40 L477.90,369.60 L479.21,369.79 L480.51,369.99 L481.81,370.19 L483.11,370.39 L484.41,370.59 L485.71,370.79 L487.01,370.99 L488.31,371.19 L489.61,371.39 L490.91,371.59 L492.21,371.79 L493.51,371.99 L494.81,372.19 L496.11,372.39 L497.41,372.59 L498.70,372.80 L500.00,373.00 L501.30,373.20 L502.60,373.40 L503.90,373.60 L505.20,373.80 L506.49,374.01 L507.79,374.21 L509.09,374.41 L510.39,374.61 L511.69,374.81 L512.99,375.01 L514.29,375.21 L515.59,375.41 L516.89,375.61 L518.19,375.81 L519.49,376.01 L520.79,376.21 L522.09,376.41 L523.40,376.60 L524.70,376.80 L526.00,377.00 L527.31,377.19 L528.61,377.39 L529.92,377.58 L531.23,377.77 L532.53,377.97 L533.84,378.16 L535.15,378.35 L536.46,378.54 L537.77,378.73 L539.08,378.92 L540.39,379.11 L541.71,379.29 L543.02,379.48 L544.34,379.66 L545.66,379.84 L546.97,380.03 L548.29,380.21 L549.61,380.39 L550.93,380.57 L552.25,380.75 L553.58,380.92 L554.90,381.10 L556.23,381.27 L557.55,381.45 L558.88,381.62 L560.21,381.79 L561.54,381.96 L562.87,382.13 L564.20,382.30 L565.53,382.47 L566.86,382.64 L568.20,382.80 L569.53,382.97 L570.87,383.13 L572.20,383.30 L573.54,383.46 L574.88,383.62 L576.22,383.78 L577.56,383.94 L578.90,384.10 L580.25,384.25 L581.59,384.41 L582.94,384.56 L584.28,384.72 L585.63,384.87 L586.98,385.02 L588.32,385.18 L589.67,385.33 L591.02,385.48 L592.38,385.62 L593.73,385.77 L595.08,385.92 L596.43,386.07 L597.79,386.21 L599.15,386.35 L600.50,386.50 L601.86,386.64 L603.22,386.78 L604.58,386.92 L605.94,387.06 L607.30,387.20 L608.66,387.34 L610.03,387.47 L611.39,387.61 L612.75,387.75 L614.12,387.88 L615.49,388.01 L616.85,388.15 L618.22,388.28 L619.59,388.41 L620.96,388.54 L622.33,388.67 L623.70,388.80 L625.08,388.92 L626.45,389.05 L627.82,389.18 L629.20,389.30 L630.58,389.42 L631.95,389.55 L633.33,389.67 L634.71,389.79 L636.09,389.91 L637.47,390.03 L638.85,390.15 L640.23,390.27 L641.61,390.39 L643.00,390.50 L644.38,390.62 L645.76,390.74 L647.15,390.85 L648.54,390.96 L649.92,391.08 L651.31,391.19 L652.70,391.30 L654.09,391.41 L655.48,391.52 L656.87,391.63 L658.26,391.74 L659.66,391.84 L661.05,391.95 L662.44,392.06 L663.00,392.10" stroke="#0000ff"/>
<path d="M83.50,50.30 L84.89,50.41 L86.26,50.54 L87.60,50.70 L88.92,50.88 L90.21,51.09 L91.48,51.32 L92.72,51.58 L93.94,51.86 L95.14,52.16 L96.31,52.49 L97.47,52.83 L98.60,53.20 L99.72,53.58 L100.81,53.99 L101.89,54.41 L102.94,54.86 L103.98,55.32 L105.00,55.80 L106.01,56.29 L106.99,56.81 L107.97,57.33 L108.92,57.88 L109.87,58.43 L110.80,59.00 L111.71,59.59 L112.61,60.19 L113.50,60.80 L114.38,61.42 L115.25,62.05 L116.11,62.69 L116.96,63.34 L117.79,64.01 L118.62,64.68 L119.44,65.36 L120.26,66.04 L121.06,66.74 L121.86,67.44 L122.66,68.14 L123.45,68.85 L124.23,69.57 L125.01,70.29 L125.78,71.02 L126.56,71.74 L127.33,72.47 L128.09,73.21 L128.85,73.95 L129.61,74.69 L130.37,75.43 L131.13,76.17 L131.88,76.92 L132.63,77.67 L133.38,78.42 L134.12,79.18 L134.87,79.93 L135.61,80.69 L136.35,81.45 L137.10,82.20 L137.84,82.96 L138.58,83.72 L139.31,84.49 L140.05,85.25 L140.79,86.01 L141.53,86.77 L142.27,87.53 L143.01,88.29 L143.75,89.05 L144.48,89.82 L145.23,90.57 L145.97,91.33 L146.71,92.09 L147.45,92.85 L148.20,93.60 L148.95,94.35 L149.70,95.10 L150.45,95.85 L151.20,96.60 L151.96,97.34 L152.71,98.09 L153.48,98.82 L154.24,99.56 L155.01,100.29 L155.78,101.02 L156.55,101.75 L157.33,102.47 L158.11,103.19 L158.89,103.91 L159.68,104.62 L160.48,105.32 L161.27,106.03 L162.08,106.72 L162.88,107.42 L163.70,108.10 L164.51,108.79 L165.34,109.46 L166.17,110.13 L167.00,110.80 L167.84,111.46 L168.69,112.11 L169.54,112.76 L170.40,113.40 L171.26,114.04 L172.13,114.67 L173.01,115.29 L173.90,115.90 L174.79,116.51 L175.69,117.11 L176.60,117.70 L177.51,118.29 L178.44,118.86 L179.37,119.43 L180.31,119.99 L181.26,120.54 L182.22,121.08 L183.18,121.62 L184.16,122.14 L185.14,122.66 L186.14,123.16 L187.14,123.66 L188.15,124.15 L189.17,124.63 L190.19,125.11 L191.23,125.57 L192.27,126.03 L193.32,126.48 L194.37,126.93 L195.44,127.36 L196.51,127.79 L197.59,128.21 L198.67,128.63 L199.76,129.04 L200.86,129.44 L201.96,129.84 L203.07,130.23 L204.19,130.61 L205.31,130.99 L206.43,131.37 L207.56,131.74 L208.70,132.10 L209.84,132.46 L210.98,132.82 L212.13,133.17 L213.28,133.52 L214.44,133.86 L215.60,134.20 L216.77,134.53 L217.93,134.87 L219.11,135.19 L220.28,135.52 L221.46,135.84 L222.64,136.16 L223.82,136.48 L225.01,136.79 L226.19,137.11 L227.38,137.42 L228.57,137.73 L229.76,138.04 L230.96,138.34 L232.15,138.65 L233.35,138.95 L234.55,139.25 L235.74,139.56 L236.94,139.86 L238.14,140.16 L239.33,140.47 L240.53,140.77 L241.72,141.08 L242.91,141.39 L244.11,141.69 L245.29,142.01 L246.48,142.32 L247.66,142.64 L248.85,142.95 L250.02,143.28 L251.20,143.60 L252.37,143.93 L253.54,144.26 L254.70,144.60 L255.86,144.94 L257.01,145.29 L258.16,145.64 L259.30,146.00 L260.44,146.36 L261.57,146.73 L262.69,147.11 L263.81,147.49 L264.92,147.88 L266.02,148.28 L267.12,148.68 L268.21,149.09 L269.29,149.51 L270.37,149.93 L271.44,150.36 L272.50,150.80 L273.56,151.24 L274.61,151.69 L275.65,152.15 L276.69,152.61 L277.72,153.08 L278.75,153.55 L279.77,154.03 L280.79,154.51 L281.80,155.00 L282.80,155.50 L283.80,156.00 L284.80,156.50 L285.79,157.01 L286.77,157.53 L287.75,158.05 L288.73,158.57 L289.70,159.10 L290.66,159.64 L291.63,160.17 L292.59,160.71 L293.54,161.26 L294.49,161.81 L295.44,162.36 L296.38,162.92 L297.32,163.48 L298.26,164.04 L299.19,164.61 L300.12,165.18 L301.05,165.75 L301.97,166.33 L302.89,166.91 L303.81,167.49 L304.73,168.07 L305.64,168.66 L306.55,169.25 L307.46,169.84 L308.37,170.43 L309.27,171.03 L310.17,171.63 L311.07,172.23 L311.97,172.83 L312.87,173.43 L313.77,174.03 L314.67,174.63 L315.56,175.24 L316.45,175.85 L317.35,176.45 L318.24,177.06 L319.13,177.67 L320.02,178.28 L320.91,178.89 L321.80,179.50 L322.69,180.11 L323.58,180.72 L324.47,181.33 L325.36,181.94 L326.25,182.55 L327.14,183.16 L328.03,183.77 L328.92,184.38 L329.81,184.99 L330.71,185.59 L331.60,186.20 L332.50,186.80 L333.39,187.41 L334.29,188.01 L335.19,188.61 L336.09,189.21 L336.98,189.82 L337.88,190.42 L338.78,191.02 L339.67,191.63 L340.56,192.24 L341.46,192.84 L342.35,193.45 L343.23,194.07 L344.12,194.68 L345.00,195.30 L345.88,195.92 L346.75,196.55 L347.63,197.17 L348.49,197.81 L349.36,198.44 L350.21,199.09 L351.07,199.73 L351.91,200.39 L352.76,201.04 L353.59,201.71 L354.42,202.38 L355.25,203.05 L356.06,203.74 L356.87,204.43 L357.68,205.12 L358.47,205.83 L359.26,206.54 L360.04,207.26 L360.81,207.99 L361.57,208.73 L362.32,209.48 L363.06,210.24 L363.79,211.01 L364.52,211.78 L365.23,212.57 L365.93,213.37 L366.62,214.18 L367.30,215.00 L367.96,215.84 L368.62,216.68 L369.26,217.54 L369.89,218.41 L370.50,219.30 L371.10,220.20 L371.69,221.11 L372.25,222.05 L372.81,222.99 L373.34,223.96 L373.86,224.94 L374.36,225.94 L374.85,226.95 L375.31,227.99 L375.76,229.04 L376.19,230.11 L376.60,231.20 L376.99,232.31 L377.37,233.43 L377.73,234.57 L378.08,235.72 L378.41,236.89 L378.74,238.06 L379.05,239.25 L379.35,240.45 L379.65,241.65 L379.94,242.86 L380.22,244.08 L380.50,245.30 L380.77,246.53 L381.04,247.76 L381.31,248.99 L381.58,250.22 L381.85,251.45 L382.12,252.68 L382.39,253.91 L382.66,255.14 L382.94,256.36 L383.21,257.59 L383.49,258.81 L383.76,260.04 L384.04,261.26 L384.31,262.49 L384.58,263.72 L384.85,264.95 L385.12,266.18 L385.38,267.42 L385.64,268.66 L385.90,269.90 L386.15,271.15 L386.39,272.41 L386.63,273.67 L386.87,274.93 L387.10,276.20 L387.33,277.47 L387.55,278.75 L387.77,280.03 L387.99,281.31 L388.20,282.60 L388.42,283.88 L388.63,285.17 L388.84,286.46 L389.05,287.75 L389.26,289.04 L389.47,290.33 L389.69,291.61 L389.90,292.90 L390.12,294.18 L390.34,295.46 L390.56,296.74 L390.79,298.01 L391.02,299.28 L391.25,300.55 L391.48,301.82 L391.71,303.09 L391.95,304.35 L392.19,305.61 L392.43,306.87 L392.67,308.13 L392.91,309.39 L393.15,310.65 L393.39,311.91 L393.62,313.18 L393.86,314.44 L394.10,315.70 L394.34,316.96 L394.57,318.23 L394.80,319.50 L395.03,320.77 L395.26,322.04 L395.49,323.31 L395.71,324.59 L395.93,325.87 L396.14,327.16 L396.36,328.44 L396.56,329.74 L396.77,331.03 L396.96,332.34 L397.16,333.64 L397.34,334.96 L397.53,336.27 L397.70,337.60 L397.87,338.93 L398.04,340.26 L398.20,341.60 L398.36,342.94 L398.53,344.27 L398.70,345.60 L398.89,346.91 L399.09,348.21 L399.31,349.49 L399.55,350.75 L399.81,351.99 L400.11,353.19 L400.43,354.37 L400.79,355.51 L401.19,356.61 L401.64,357.66 L402.13,358.67 L402.66,359.64 L403.25,360.55 L403.90,361.40 L404.61,362.19 L405.37,362.93 L406.18,363.62 L407.04,364.26 L407.95,364.85 L408.90,365.40 L409.89,365.91 L410.91,366.39 L411.97,366.83 L413.06,367.24 L414.18,367.62 L415.31,367.99 L416.47,368.33 L417.65,368.65 L418.84,368.96 L420.04,369.26 L421.26,369.54 L422.48,369.82 L423.71,370.09 L424.96,370.34 L426.21,370.59 L427.47,370.83 L428.73,371.07 L430.01,371.29 L431.29,371.51 L432.58,371.72 L433.87,371.93 L435.17,372.13 L436.47,372.33 L437.77,372.53 L439.08,372.72 L440.39,372.91 L441.70,373.10 L443.01,373.29 L444.32,373.48 L445.64,373.66 L446.95,373.85 L448.26,374.04 L449.57,374.23 L450.88,374.42 L452.19,374.61 L453.50,374.80 L454.81,374.99 L456.11,375.19 L457.42,375.38 L458.73,375.57 L460.03,375.77 L461.34,375.96 L462.64,376.16 L463.95,376.35 L465.25,376.55 L466.55,376.75 L467.85,376.95 L469.16,377.14 L470.46,377.34 L471.76,377.54 L473.06,377.74 L474.36,377.94 L475.66,378.14 L476.96,378.34 L478.26,378.54 L479.56,378.74 L480.85,378.95 L482.15,379.15 L483.45,379.35 L484.75,379.55 L486.04,379.76 L487.34,379.96 L488.64,380.16 L489.93,380.37 L491.23,380.57 L492.53,380.77 L493.82,380.98 L495.12,381.18 L496.41,381.39 L497.71,381.59 L499.00,381.80 L500.30,382.00 L501.59,382.21 L502.89,382.41 L504.18,382.62 L505.48,382.82 L506.77,383.03 L508.07,383.23 L509.36,383.44 L510.65,383.65 L511.95,383.85 L513.24,384.06 L514.54,384.26 L515.83,384.47 L517.13,384.67 L518.42,384.88 L519.72,385.08 L521.01,385.29 L522.31,385.49 L523.60,385.70 L524.90,385.90 L526.19,386.11 L527.49,386.31 L528.79,386.51 L530.08,386.72 L531.38,386.92 L532.68,387.12 L533.97,387.33 L535.27,387.53 L536.57,387.73 L537.87,387.93 L539.17,388.13 L540.46,388.34 L541.76,388.54 L543.06,388.74 L544.36,388.94 L545.66,389.14 L546.96,389.34 L548.26,389.54 L549.57,389.73 L550.87,389.93 L552.17,390.13 L553.47,390.33 L554.78,390.52 L556.08,390.72 L557.39,390.91 L558.69,391.11 L560.00,391.30 L561.30,391.50 L562.61,391.69 L563.92,391.88 L565.23,392.07 L566.54,392.26 L567.85,392.45 L569.16,392.64 L570.47,392.83 L571.78,393.02 L573.09,393.21 L574.40,393.40 L575.72,393.58 L577.03,393.77 L578.35,393.95 L579.66,394.14 L580.98,394.32 L582.30,394.50 L583.62,394.68 L584.94,394.86 L586.26,395.04 L587.58,395.22 L588.90,395.40 L590.22,395.58 L591.55,395.75 L592.87,395.93 L594.20,396.10 L595.53,396.27 L596.86,396.44 L598.18,396.62 L599.51,396.79 L600.85,396.95 L602.18,397.12 L603.51,397.29 L604.85,397.45 L606.18,397.62 L607.52,397.78 L608.86,397.94 L610.19,398.11 L611.53,398.27 L612.88,398.42 L614.22,398.58 L615.56,398.74 L616.91,398.89 L618.25,399.05 L619.60,399.20 L620.95,399.35 L622.30,399.50 L623.65,399.65 L625.00,399.80 L626.36,399.94 L627.71,400.09 L629.07,400.23 L630.43,400.37 L631.79,400.51 L633.15,400.65 L634.51,400.79 L635.87,400.93 L637.24,401.06 L638.60,401.20 L639.97,401.33 L641.34,401.46 L642.71,401.59 L644.09,401.71 L645.46,401.84 L646.84,401.96 L648.21,402.09 L649.59,402.21 L650.97,402.33 L652.35,402.45 L653.74,402.56 L655.12,402.68 L656.51,402.79 L657.90,402.90 L659.29,403.01 L660.68,403.12 L662.08,403.22 L663.01,403.29" stroke="#800080"/>
</g>
<g stroke="#000" stroke-width="2.2" fill="none">
<rect x="83" y="1.8" width="580.80" height="432.80"/>
</g>
<g stroke="#000" stroke-width="2">
<line x1="110.57" y1="434.6" x2="110.57" y2="430.6"/>
<line x1="156.70" y1="434.6" x2="156.70" y2="427.1"/>
<line x1="202.83" y1="434.6" x2="202.83" y2="430.6"/>
<line x1="248.96" y1="434.6" x2="248.96" y2="427.1"/>
<line x1="295.09" y1="434.6" x2="295.09" y2="430.6"/>
<line x1="341.22" y1="434.6" x2="341.22" y2="427.1"/>
<line x1="387.35" y1="434.6" x2="387.35" y2="430.6"/>
<line x1="433.48" y1="434.6" x2="433.48" y2="427.1"/>
<line x1="479.61" y1="434.6" x2="479.61" y2="430.6"/>
<line x1="525.74" y1="434.6" x2="525.74" y2="427.1"/>
<line x1="571.87" y1="434.6" x2="571.87" y2="430.6"/>
<line x1="618.00" y1="434.6" x2="618.00" y2="427.1"/>
<line x1="83" y1="339.05" x2="91" y2="339.05"/>
<line x1="83" y1="242.60" x2="91" y2="242.60"/>
<line x1="83" y1="146.15" x2="91" y2="146.15"/>
</g>
<rect x="331.1" y="6.6" width="327.7" height="142" fill="#fff" stroke="#6a6a6a" stroke-width="1.9"/>
<g font-weight="bold" font-size="18.3" fill="#000">
<line x1="339" y1="23.20" x2="390.5" y2="23.20" stroke="#ff0000" stroke-width="2.6"/>
<text x="396" y="30.70">Co-Cu-BTC (DCM exchanged)</text>
<line x1="339" y1="51.40" x2="390.5" y2="51.40" stroke="#008000" stroke-width="2.6"/>
<text x="396" y="58.90">Fe-Cu-BTC (DCM exchanged)</text>
<line x1="339" y1="79.60" x2="390.5" y2="79.60" stroke="#000000" stroke-width="2.6"/>
<text x="396" y="87.10">Cu-BTC (as-synthesized)</text>
<line x1="339" y1="107.80" x2="390.5" y2="107.80" stroke="#0000ff" stroke-width="2.6"/>
<text x="396" y="115.30">Ni-Cu-BTC (DCM exchanged)</text>
<line x1="339" y1="136.00" x2="390.5" y2="136.00" stroke="#800080" stroke-width="2.6"/>
<text x="396" y="143.50">Zn-Cu-BTC (DCM exchanged)</text>
</g>
<g font-weight="bold" font-size="18.3" fill="#000">
<text x="156.70" y="458.4" text-anchor="middle">100</text>
<text x="248.96" y="458.4" text-anchor="middle">200</text>
<text x="341.22" y="458.4" text-anchor="middle">300</text>
<text x="433.48" y="458.4" text-anchor="middle">400</text>
<text x="525.74" y="458.4" text-anchor="middle">500</text>
<text x="618.00" y="458.4" text-anchor="middle">600</text>
<text x="74" y="440.00" text-anchor="end">20</text>
<text x="74" y="344.35" text-anchor="end">40</text>
<text x="74" y="247.90" text-anchor="end">60</text>
<text x="74" y="151.45" text-anchor="end">80</text>
<text x="74" y="55.00" text-anchor="end">100</text>
</g>
<text x="284" y="493.5" font-weight="bold" font-size="22.2">Temperature (°C)</text>
<text transform="translate(17.4,263) rotate(-90)" x="0" y="0" font-weight="bold" font-size="22">Weight (%)</text>
<g font-size="22.3" fill="#000">
<text x="128.5" y="411.3">I</text>
<text x="217.2" y="411.8">II</text>
<text x="306.1" y="408.4">III</text>
<text x="380.6" y="408.4">IV</text>
</g>
</g>
</svg>
</body></html>
